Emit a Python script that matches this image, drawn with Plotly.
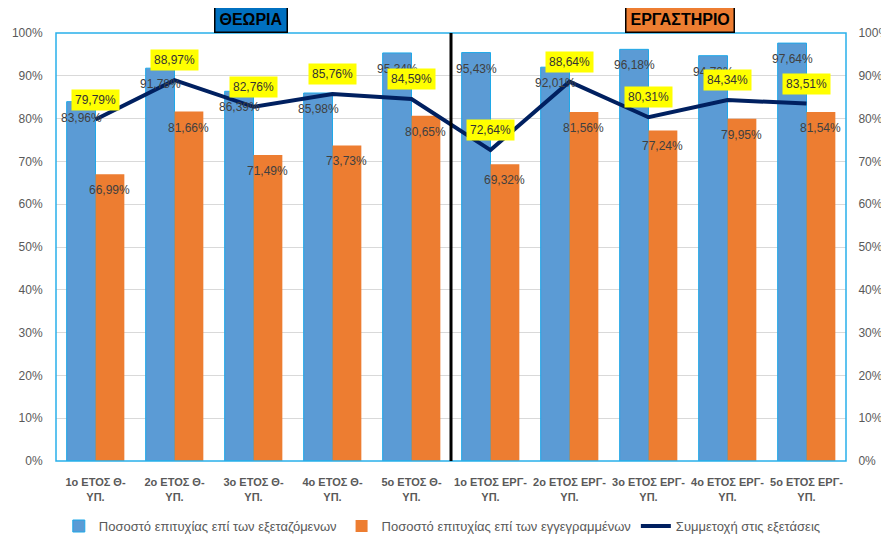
import plotly.graph_objects as go

# κατηγορίες (έτη θεωρίας / εργαστηρίου)
categories = [
    "1ο ΕΤΟΣ Θ-<br>ΥΠ.", "2ο ΕΤΟΣ Θ-<br>ΥΠ.", "3ο ΕΤΟΣ Θ-<br>ΥΠ.",
    "4ο ΕΤΟΣ Θ-<br>ΥΠ.", "5ο ΕΤΟΣ Θ-<br>ΥΠ.",
    "1ο ΕΤΟΣ ΕΡΓ-<br>ΥΠ.", "2ο ΕΤΟΣ ΕΡΓ-<br>ΥΠ.", "3ο ΕΤΟΣ ΕΡΓ-<br>ΥΠ.",
    "4ο ΕΤΟΣ ΕΡΓ-<br>ΥΠ.", "5ο ΕΤΟΣ ΕΡΓ-<br>ΥΠ.",
]
success_examined = [83.96, 91.78, 86.39, 85.98, 95.34, 95.43, 92.01, 96.18, 94.70, 97.64]
success_registered = [66.99, 81.66, 71.49, 73.73, 80.65, 69.32, 81.56, 77.24, 79.95, 81.54]
participation = [79.79, 88.97, 82.76, 85.76, 84.59, 72.64, 88.64, 80.31, 84.34, 83.51]

FONT = "Liberation Sans, Arial, sans-serif"
GREY = "#595959"
LABEL = "#404040"


def pct(v):
    return f"{v:.2f}%".replace(".", ",")


fig = go.Figure()

fig.add_trace(go.Bar(
    x=categories, y=success_examined,
    name="Ποσοστό επιτυχίας επί των εξεταζόμενων",
    marker=dict(color="#5B9BD5", line=dict(color="#1FA8E8", width=1)),
))
fig.add_trace(go.Bar(
    x=categories, y=success_registered,
    name="Ποσοστό επιτυχίας επί των εγγεγραμμένων",
    marker=dict(color="#ED7D31", line=dict(width=0)),
))
fig.add_trace(go.Scatter(
    x=categories, y=participation, yaxis="y2",
    name="Συμμετοχή στις εξετάσεις",
    mode="lines", line=dict(color="#002060", width=4),
))

annotations = []
for c, v in zip(categories, success_examined):
    annotations.append(dict(x=c, y=v, xref="x", yref="y", text=pct(v), showarrow=False,
                            xshift=-14, yshift=-16, font=dict(size=12, color=LABEL)))
for c, v in zip(categories, success_registered):
    annotations.append(dict(x=c, y=v, xref="x", yref="y", text=pct(v), showarrow=False,
                            xshift=14, yshift=-16, font=dict(size=12, color=LABEL)))
for c, v in zip(categories, participation):
    annotations.append(dict(x=c, y=v, xref="x", yref="y2", text=pct(v), showarrow=False,
                            yshift=20, bgcolor="#FFFF00", borderpad=3,
                            font=dict(size=12, color="#333333")))

# ετικέτες ενοτήτων
annotations.append(dict(x=0.247, y=1, xref="paper", yref="paper", xanchor="center",
                        yanchor="bottom", text="<b>ΘΕΩΡΙΑ</b>", showarrow=False,
                        bgcolor="#0070C0", bordercolor="#000000", borderwidth=1.5,
                        borderpad=4, font=dict(size=16, color="#000000")))
annotations.append(dict(x=0.79, y=1, xref="paper", yref="paper", xanchor="center",
                        yanchor="bottom", text="<b>ΕΡΓΑΣΤΗΡΙΟ</b>", showarrow=False,
                        bgcolor="#ED7D31", bordercolor="#000000", borderwidth=1.5,
                        borderpad=4, font=dict(size=16, color="#000000")))

# η σελίδα έχει περιθώριο 8px, οπότε το σχήμα είναι 8px μικρότερο
fig.update_layout(
    width=881, height=528,
    margin=dict(l=48, r=43, t=25, b=75, autoexpand=False),
    paper_bgcolor="white", plot_bgcolor="white",
    font=dict(family=FONT, color=GREY),
    barmode="group", bargap=0.27, bargroupgap=0,
    showlegend=True,
    legend=dict(orientation="h", x=0.489, xanchor="center", y=-0.152, yanchor="middle",
                font=dict(size=13, color=GREY), itemwidth=30),
    xaxis=dict(tickfont=dict(size=11, color=GREY, family=FONT, weight="bold"),
               tickangle=0, automargin=False, showgrid=False, showline=False,
               ticks="outside", ticklen=11, tickcolor="rgba(0,0,0,0)"),
    yaxis=dict(range=[0, 100], dtick=10, ticksuffix="%", showgrid=True,
               gridcolor="#D9D9D9", gridwidth=1, zeroline=False, automargin=False,
               ticks="outside", ticklen=10, tickcolor="rgba(0,0,0,0)",
               tickfont=dict(size=12, color=GREY)),
    yaxis2=dict(range=[0, 100], dtick=10, ticksuffix="%", overlaying="y", side="right",
                showgrid=False, zeroline=False, automargin=False,
                ticks="outside", ticklen=9, tickcolor="rgba(0,0,0,0)",
                tickfont=dict(size=12, color=GREY)),
    annotations=annotations,
    shapes=[
        dict(type="rect", xref="paper", yref="paper", x0=0, x1=1, y0=0, y1=1,
             line=dict(color="#29B0EA", width=1.5)),
        dict(type="line", xref="x", yref="paper", x0=4.5, x1=4.5, y0=0, y1=1,
             line=dict(color="#000000", width=3)),
    ],
)

fig.write_html("out.html")
